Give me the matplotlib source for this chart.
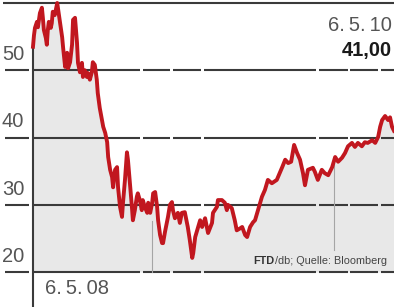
import numpy as np
import matplotlib
matplotlib.use('Agg')
import matplotlib.pyplot as plt

# days since 6.5.08 and share price (EUR)
days = [0, 2, 4, 8, 10, 14, 18, 20, 22, 26, 28, 30, 32, 36, 38, 40, 44, 49, 51, 55,
        59, 61, 65, 69, 71, 75, 79, 81, 85, 89, 91, 95, 99, 101, 105, 109, 111, 115, 119, 121,
        125, 129, 131, 135, 142, 146, 150, 152, 156, 160, 162, 166, 170, 172, 176, 180, 182, 186, 190, 192,
        196, 200, 202, 206, 210, 212, 216, 220, 222, 226, 231, 233, 237, 241, 243, 247, 251, 253, 257, 261,
        263, 267, 273, 277, 281, 283, 287, 293, 297, 301, 307, 313, 317, 322, 324, 328, 332, 338, 342, 348,
        354, 362, 364, 372, 374, 382, 388, 392, 394, 402, 408, 412, 419, 423, 429, 433, 439, 445, 449, 455,
        463, 469, 475, 483, 493, 504, 510, 516, 522, 528, 534, 540, 546, 550, 556, 566, 570, 576, 584, 590,
        597, 605, 611, 617, 625, 631, 637, 645, 651, 657, 665, 671, 677, 686, 692, 698, 702, 706, 712, 718,
        722, 726, 730]
price = [53.5, 55.2, 56.3, 57.2, 56.4, 58.5, 59.3, 57.8, 56.0, 54.8, 53.8, 56.0, 57.2, 56.3, 57.0, 58.7, 58.2, 60.0, 59.0, 57.0,
         54.9, 53.3, 50.5, 52.6, 50.3, 51.2, 53.8, 57.5, 57.8, 54.1, 51.1, 49.7, 51.1, 49.0, 50.0, 49.0, 49.6, 48.6, 49.7, 51.2,
         50.8, 48.6, 46.6, 44.4, 41.6, 40.7, 39.3, 37.1, 35.2, 34.1, 32.6, 35.2, 35.6, 32.6, 29.7, 28.2, 30.3, 33.7, 37.8, 36.7,
         33.2, 29.7, 27.7, 29.2, 31.2, 31.7, 30.7, 29.2, 30.7, 29.7, 28.8, 30.3, 28.8, 30.3, 31.7, 31.9, 29.7, 27.7, 25.5, 24.3,
         24.3, 26.0, 28.2, 30.0, 30.4, 29.2, 28.0, 28.8, 27.3, 28.8, 28.9, 26.7, 24.8, 22.1, 22.8, 25.2, 26.2, 27.7, 26.7, 28.0,
         25.8, 27.3, 28.8, 29.7, 30.7, 30.7, 30.3, 29.2, 30.0, 29.5, 27.7, 26.2, 26.5, 26.7, 25.5, 25.2, 26.7, 27.4, 27.7, 29.2,
         31.2, 32.2, 33.7, 33.2, 33.7, 35.6, 36.7, 36.2, 36.4, 38.9, 37.7, 36.7, 34.7, 32.9, 35.2, 35.5, 34.9, 33.7, 35.2, 34.7,
         34.4, 35.6, 37.1, 36.4, 37.0, 37.7, 38.7, 39.2, 38.6, 39.2, 38.7, 39.3, 39.2, 39.6, 39.2, 40.1, 41.6, 42.6, 43.2, 42.6,
         43.0, 41.6, 41.0]

grid_levels = [50, 40, 30, 20]
y_labels = ['50', '40', '30', '20']
gaps = [-6, 220, 281, 342, 576, 639, 700]

red = '#c1171f'
grey_txt = '#555555'
line_col = '#3a3a3a'

plt.rcParams['font.family'] = ['Liberation Sans', 'DejaVu Sans']

fig = plt.figure(figsize=(3.94, 3.07), dpi=100)
ax = fig.add_axes([0, 0, 1, 1])
ax.set_xlim(-66.7, 730)
ax.set_ylim(14.8, 60.45)
ax.axis('off')

ax.fill_between(days, price, 20, color='#e8e8e8', lw=0, zorder=1)

# top solid line
ax.plot([-60.7, 730], [60, 60], color=line_col, lw=1.5, zorder=2, solid_capstyle='butt')
# broken grid lines
edges = [-56.6] + gaps + [730]
for lev, lab in zip(grid_levels, y_labels):
    for i in range(len(edges) - 1):
        x0 = edges[i] + (3 if i > 0 else 0)
        x1 = edges[i + 1] - 3 if i + 1 < len(edges) - 1 else edges[i + 1]
        ax.plot([x0, x1], [lev, lev], color=line_col, lw=1.5, zorder=2, solid_capstyle='butt')
    ax.text(-63, lev + 0.9, lab, fontsize=14.5, color=grey_txt, ha='left', va='bottom')

# vertical axis line at start date
ax.plot([0, 0], [14.8, price[0]], color=line_col, lw=1.5, zorder=2)
# year markers
ax.plot([240, 240], [20, 27.6], color='#a5a5a5', lw=0.8, zorder=2)
ax.plot([609, 609], [23.3, 36.0], color='#a5a5a5', lw=0.8, zorder=2)

ax.plot(days, price, color=red, lw=2.8, zorder=3, solid_joinstyle='round')

ax.text(725, 56.6, '6.\u20095.\u200910', fontsize=14.5, color=grey_txt, ha='right', va='center')
ax.text(725, 53.0, '41,00', fontsize=14.5, color='#1a1a1a', fontweight='bold', ha='right', va='center')
ax.text(24, 17.5, '6.\u20095.\u200908', fontsize=14.5, color=grey_txt, ha='left', va='center')

src = ax.text(715, 21.6, '/db; Quelle: Bloomberg', fontsize=7.8, color='#444444', ha='right', va='center')
fig.canvas.draw()
bb = src.get_window_extent()
x_left = ax.transData.inverted().transform((bb.x0, bb.y0))[0]
ax.text(x_left, 21.6, 'FTD', fontsize=7.8, color='#333333', fontweight='bold', ha='right', va='center')

fig.savefig('out.png', dpi=100)
